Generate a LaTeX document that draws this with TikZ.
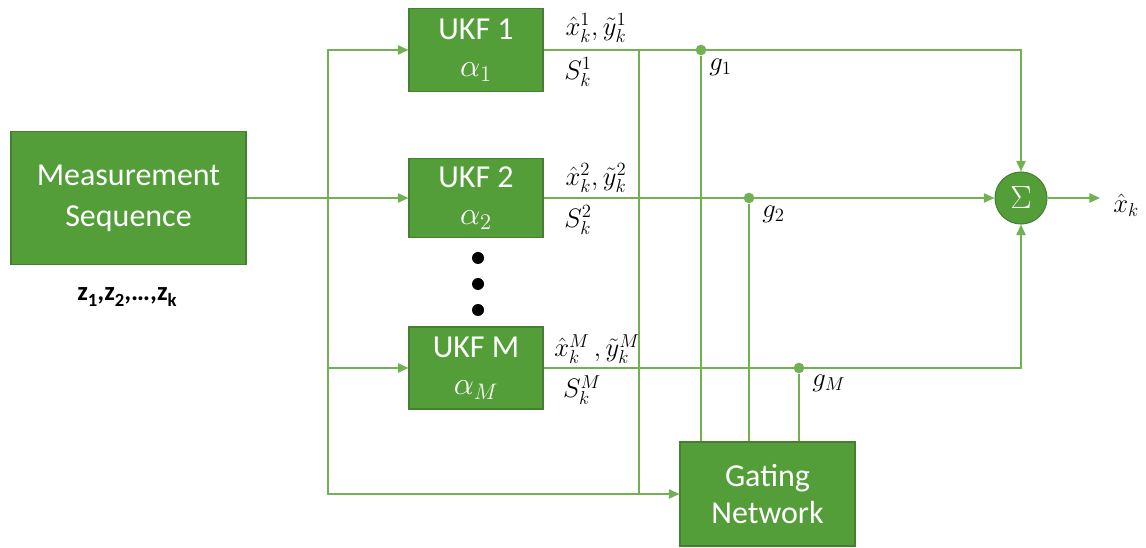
\documentclass[tikz,border=0pt]{standalone}
\usepackage{fix-cm}
\usepackage{fontspec}
\setmainfont{Carlito}
\usetikzlibrary{arrows.meta}
\definecolor{boxfill}{HTML}{549E39}
\definecolor{boxline}{HTML}{467F31}
\definecolor{wire}{HTML}{72B152}
\newcommand\zsub[1]{\raisebox{-0.22em}{\fontsize{14}{14}\selectfont #1}}
\begin{document}
\begin{tikzpicture}[x=0.75pt,y=-0.75pt,
  blk/.style={draw=boxline,line width=0.8pt,fill=boxfill,text=white,align=center,inner sep=0pt,
    font=\fontsize{24}{28}\selectfont},
  wireln/.style={draw=wire,line width=1.3pt},
  arr/.style={wireln,-{Triangle[length=8pt,width=7pt]}},
  lbl/.style={font=\fontsize{20}{24}\selectfont,inner sep=0pt},
  jdot/.style={circle,fill=wire,inner sep=0pt,minimum size=8pt}]
\useasboundingbox (0,0) rectangle (1146,548);
% blocks
\node[blk,minimum width=176.25pt,minimum height=99.75pt] (meas) at (128.5,198) {Measurement\\[3pt]Sequence};
\node[blk,minimum width=100.5pt,minimum height=62.25pt] (ukf1) at (476,50) {UKF 1\\$\alpha_1$};
\node[blk,minimum width=100.5pt,minimum height=59.25pt] (ukf2) at (476,198) {UKF 2\\$\alpha_2$};
\node[blk,minimum width=100.5pt,minimum height=61.5pt] (ukfM) at (476,368) {UKF M\\$\alpha_M$};
\node[blk,minimum width=131.25pt,minimum height=78pt] (gate) at (767.5,494) {Gating\\Network};
\node[circle,draw=boxline,line width=0.8pt,fill=boxfill,text=white,minimum size=39pt,inner sep=0pt,
  font=\fontsize{24}{28}\selectfont] (sigma) at (1021,198) {$\Sigma$};
% dots
\foreach \yy/\nm in {258/d1,284/d2,310/d3}
  \node[circle,fill=black,inner sep=0pt,minimum size=9pt] (\nm) at (478,\yy) {};
% coordinates
\coordinate (split) at (328,198);
\coordinate (t1) at (639,50);
\coordinate (t2) at (639,494);
\coordinate (out) at (1100,198);
\node[jdot] (g1) at (701,50) {};
\node[jdot] (g2) at (749,198) {};
\node[jdot] (gM) at (799,368) {};
% connectors
\draw[arr] (meas.east) -- (ukf2.west);
\draw[arr] (split) |- (ukf1.west);
\draw[arr] (split) |- (ukfM.west);
\draw[arr] (split) |- (gate.west);
\draw[wireln] (t1) -- (t2);
\draw[arr] (ukf1.east) -| (sigma.north);
\draw[arr] (ukf2.east) -- (sigma.west);
\draw[arr] (ukfM.east) -| (sigma.south);
\draw[wireln] (g1) -- (g1 |- gate.north);
\draw[wireln] (g2) -- (g2 |- gate.north);
\draw[wireln] (gM) -- (gM |- gate.north);
\draw[arr] (sigma.east) -- (out);
% labels
\node[font=\bfseries\fontsize{20}{24}\selectfont] (zl) at (127,297) {z\zsub{1},z\zsub{2},\dots,z\zsub{k}};
\node[lbl] (l1a) at (596,28) {$\hat{x}_k^1,\tilde{y}_k^1$};
\node[lbl] (l1b) at (578,72) {$S_k^1$};
\node[lbl] (l2a) at (596,178) {$\hat{x}_k^2,\tilde{y}_k^2$};
\node[lbl] (l2b) at (578,220) {$S_k^2$};
\node[lbl] (lMa) at (597,349) {$\hat{x}_k^M\,,\tilde{y}_k^M$};
\node[lbl] (lMb) at (582,390) {$S_k^M$};
\node[lbl,anchor=west] (lg1) at (709,67) {$g_1$};
\node[lbl,anchor=west] (lg2) at (762,214) {$g_2$};
\node[lbl,anchor=west] (lgM) at (812,383) {$g_M$};
\node[lbl,anchor=west] (lout) at (1113,205) {$\hat{x}_k$};
\end{tikzpicture}
\end{document}
